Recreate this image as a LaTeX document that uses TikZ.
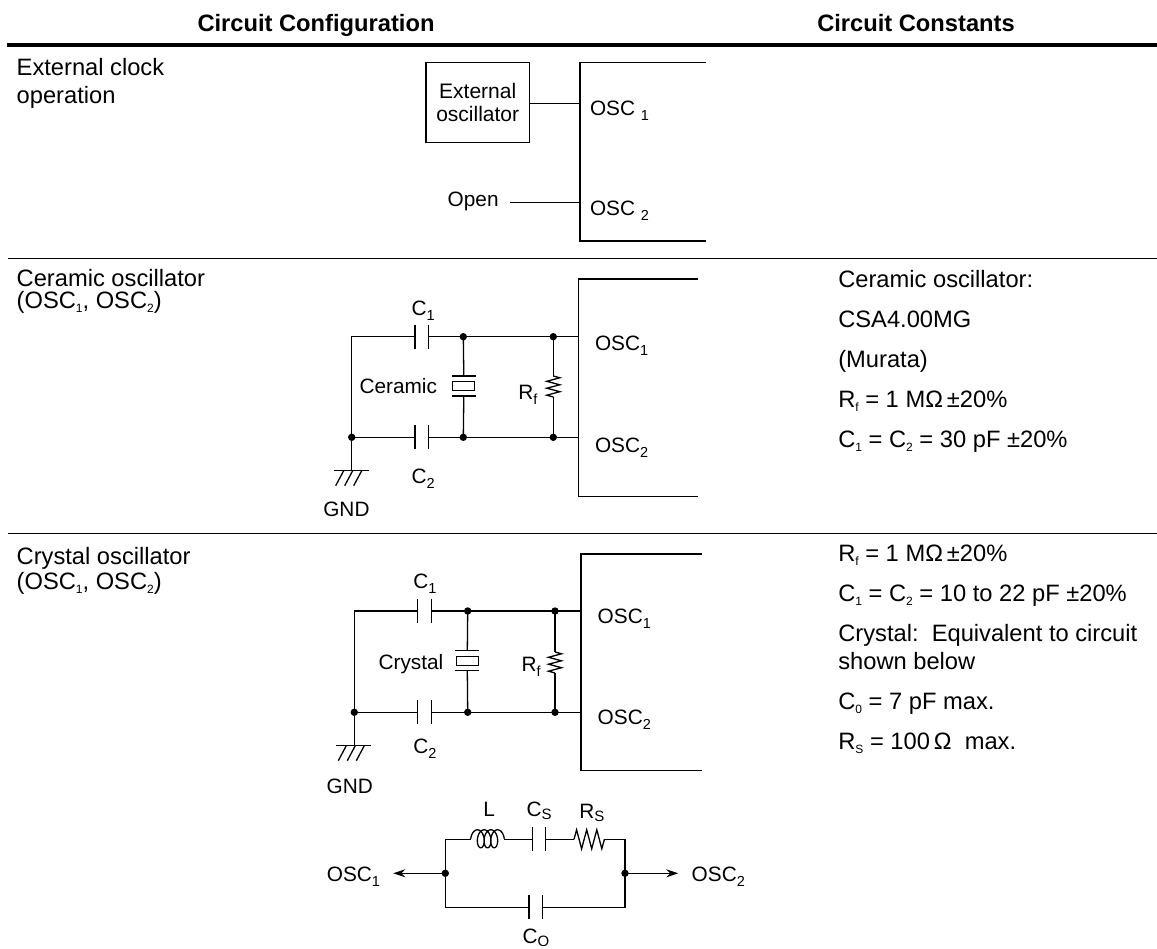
\documentclass[tikz,border=0pt]{standalone}
\usepackage{fontspec}
\setmainfont{Liberation Sans}
\usetikzlibrary{arrows.meta}
\newcommand{\lsub}[1]{\raisebox{-5pt}{\fontsize{14.5}{14.5}\selectfont #1}}
\newcommand{\esub}[1]{\raisebox{-3pt}{\fontsize{15}{15}\selectfont #1}}
\newcommand{\tsub}[1]{\raisebox{-4pt}{\fontsize{12}{12}\selectfont #1}}
\newcommand{\mainsz}{\fontsize{23.7}{27}\selectfont}
\newcommand{\cktsz}{\fontsize{20.8}{23}\selectfont}
\tikzset{
  cap/.pic={\draw (-6.7,-12) -- (-6.7,12); \draw (6.7,-12) -- (6.7,12);
            \coordinate (-a) at (-6.7,0); \coordinate (-b) at (6.7,0);},
  xtal/.pic={\draw (-12,-10) -- (12,-10); \draw (-11,-4.5) rectangle (11,4.5);
             \draw (-12,10) -- (12,10);
             \coordinate (-t) at (0,-10); \coordinate (-b) at (0,10);},
  rv/.pic={\draw (0,-10.5) -- (6.5,-8.7) -- (-6.5,-5.2) -- (6.5,-1.7) -- (-6.5,1.7)
            -- (6.5,5.2) -- (-6.5,8.7) -- (0,10.5);
           \coordinate (-t) at (0,-10.5); \coordinate (-b) at (0,10.5);},
  rh/.pic={\draw (-15.2,0) -- (-12.6,-9.5) -- (-7.6,9.5) -- (-2.5,-9.5) -- (2.5,9.5)
            -- (7.6,-9.5) -- (12.6,9.5) -- (15.2,0);
           \coordinate (-a) at (-15.2,0); \coordinate (-b) at (15.2,0);},
  gnd/.pic={\draw (-18,0) -- (17,0);
            \foreach \q in {-8,1,10} \draw (\q,0) -- (\q-8,15);},
  coil/.pic={\draw plot[domain=1.5708:23.5619,samples=220,variable=\t,smooth]
              ({1.07*(\t-12.5664)-5*sin(\t r)},{-0.5+9*cos(\t r)});
             \coordinate (-a) at (-16.77,0); \coordinate (-b) at (16.77,0);},
}
\begin{document}
\begin{tikzpicture}[x=1pt,y=-1pt,line width=1.3pt,
  every node/.style={inner sep=0pt,outer sep=0pt},
  txt/.style={anchor=base west,font=\mainsz},
  ckt/.style={anchor=base west,font=\cktsz},
  ckte/.style={anchor=base east,font=\cktsz},
  hdr/.style={anchor=base,font=\mainsz\bfseries},
  dot/.style={fill=black},
  arr/.style={-{Stealth[length=12pt,width=8pt]}}]
\fill[white] (0,0) rectangle (1157,949);
\useasboundingbox (0,0) rectangle (1157,949);

% ---------------- header ----------------
\node[hdr] (h1) at (316,31.5) {Circuit Configuration};
\node[hdr] (h2) at (916,31.5) {Circuit Constants};
\draw[line width=4pt] (7,45) -- (1157,45);
\draw[line width=1.5pt] (8,258.7) -- (1157,258.7);
\draw[line width=1.5pt] (8,533.3) -- (1157,533.3);

% ---------------- row 1 ----------------
\node[txt] (r1a) at (16.7,76) {External clock};
\node[txt] (r1b) at (16.7,103.5) {operation};
\draw (706,62.7) -- (580,62.7) -- (580,241) -- (706,241);
\node[draw,minimum width=103.3pt,minimum height=80pt,align=center,
      font=\fontsize{21}{22.5}\selectfont] (ext) at (477.7,102.7) {External\\oscillator};
\coordinate (a1) at (580,103.3);
\draw (ext.east |- a1) -- (a1);
\node[ckt] (a1l) at (590,116) {OSC \lsub{1}};
\node[ckt] (open) at (447.7,206.7) {Open};
\coordinate (openw) at (510,202.7);
\coordinate (a2) at (580,202.7);
\draw (openw) -- (a2);
\node[ckt] (a2l) at (590,216) {OSC \lsub{2}};

% ---------------- row 2 ----------------
\node[txt] (r2a) at (16.7,286.7) {Ceramic oscillator};
\node[txt] (r2b) at (16.7,308.3) {(OSC\tsub{1}, OSC\tsub{2})};
\draw (698,279) -- (578.3,279) -- (578.3,496.7) -- (698,496.7);
\coordinate (bL) at (351.7,336.7);
\coordinate (bG) at (351.7,437.3);
\coordinate (bE) at (351.7,470.7);
\coordinate (bT1) at (463.3,336.7);
\coordinate (bT2) at (553.3,336.7);
\coordinate (bO1) at (578.3,336.7);
\coordinate (bB1) at (463.3,437.3);
\coordinate (bB2) at (553.3,437.3);
\coordinate (bO2) at (578.3,437.3);
\pic (bC1) at (421.7,336.7) {cap};
\pic (bC2) at (421.7,437.3) {cap};
\pic (bX) at (463.8,386) {xtal};
\pic (bR) at (553.3,386.5) {rv};
\pic (bgnd) at (bE) {gnd};
\draw (bC1-a) -- (bL) -- (bE);
\draw (bC1-b) -- (bO1);
\draw (bG) -- (bC2-a);
\draw (bC2-b) -- (bO2);
\draw (bT1) -- (bX-t);
\draw (bX-b) -- (bB1);
\draw (bT2) -- (bR-t);
\draw (bR-b) -- (bB2);
\foreach \p in {bG,bT1,bT2,bB1,bB2} \fill[dot] (\p) circle[radius=3.7pt];
\node[ckt] (bC1l) at (411.7,316) {C\lsub{1}};
\node[ckt] (bC2l) at (411.7,483.3) {C\lsub{2}};
\node[ckte] (bXl) at (437,393.3) {Ceramic};
\node[ckt] (bRl) at (518.3,399.3) {R\lsub{f}};
\node[ckt] (bO1l) at (595,350.7) {OSC\lsub{1}};
\node[ckt] (bO2l) at (595,452.7) {OSC\lsub{2}};
\node[ckt] (bGl) at (323.3,516) {GND};
% constants
\node[txt] (k1) at (838.3,287.3) {Ceramic oscillator:};
\node[txt] (k2) at (838.3,327.3) {CSA4.00MG};
\node[txt] (k3) at (838.3,367.3) {(Murata)};
\node[txt] (k4) at (838.3,407.3) {R\tsub{f} = 1 MΩ\,±20\%};
\node[txt] (k5) at (838.3,447.3) {C\tsub{1} = C\tsub{2} = 30 pF ±20\%};

% ---------------- row 3 ----------------
\node[txt] (r3a) at (16.7,564) {Crystal oscillator};
\node[txt] (r3b) at (16.7,589) {(OSC\tsub{1}, OSC\tsub{2})};
\draw (701.7,554) -- (581,554) -- (581,770.7) -- (701.7,770.7);
\coordinate (cL) at (354.3,611);
\coordinate (cG) at (354.3,712.3);
\coordinate (cE) at (354.3,745.7);
\coordinate (cT1) at (467.7,611);
\coordinate (cT2) at (555,611);
\coordinate (cO1) at (581,611);
\coordinate (cB1) at (467.7,712.3);
\coordinate (cB2) at (555,712.3);
\coordinate (cO2) at (581,712.3);
\pic (cC1) at (424.5,611) {cap};
\pic (cC2) at (424.5,712.3) {cap};
\pic (cX) at (467.3,660.7) {xtal};
\pic (cR) at (555,662.5) {rv};
\pic (cgnd) at (cE) {gnd};
\draw (cC1-a) -- (cL) -- (cE);
\draw (cC1-b) -- (cO1);
\draw (cG) -- (cC2-a);
\draw (cC2-b) -- (cO2);
\draw (cT1) -- (cX-t);
\draw (cX-b) -- (cB1);
\draw (cT2) -- (cR-t);
\draw (cR-b) -- (cB2);
\foreach \p in {cG,cT1,cT2,cB1,cB2} \fill[dot] (\p) circle[radius=3.7pt];
\node[ckt] (cC1l) at (413.3,588.3) {C\lsub{1}};
\node[ckt] (cC2l) at (413.3,753.3) {C\lsub{2}};
\node[ckte] (cXl) at (443.3,669.3) {Crystal};
\node[ckt] (cRl) at (521.7,671.7) {R\lsub{f}};
\node[ckt] (cO1l) at (597.7,623.3) {OSC\lsub{1}};
\node[ckt] (cO2l) at (597.7,724) {OSC\lsub{2}};
\node[ckt] (cGl) at (326.7,793.3) {GND};
% equivalent circuit
\coordinate (eL1) at (445.3,839.3);
\coordinate (eR1) at (625,839.3);
\coordinate (eL2) at (445.3,907.3);
\coordinate (eR2) at (625,907.3);
\coordinate (eML) at (445.3,873.3);
\coordinate (eMR) at (625,873.3);
\coordinate (eAL) at (393.3,873.3);
\coordinate (eAR) at (678.3,873.3);
\pic (eL) at (487.5,839.3) {coil};
\pic (eCs) at (539,839.3) {cap};
\pic (eRs) at (589.2,839.3) {rh};
\pic (eCo) at (535.8,907.3) {cap};
\draw (eCs-b) -- (eRs-a);
\draw (eRs-b) -- (eR1) -- (eR2) -- (eCo-b);
\draw (eCo-a) -- (eL2) -- (eL1) -- (eL-a);
\draw (eL-b) -- (eCs-a);
\draw[arr] (eML) -- (eAL);
\draw[arr] (eMR) -- (eAR);
\foreach \p in {eML,eMR} \fill[dot] (\p) circle[radius=3.7pt];
\node[ckt] (eLl) at (483.3,816.7) {L};
\node[ckt] (eCsl) at (526.7,816.7) {C\esub{S}};
\node[ckt] (eRsl) at (579.3,818) {R\esub{S}};
\node[ckt] (eCol) at (522.7,943.5) {C\esub{O}};
\node[ckte] (eO1l) at (380,881.7) {OSC\lsub{1}};
\node[ckt] (eO2l) at (691.7,881.7) {OSC\lsub{2}};
% constants
\node[txt] (m1) at (838.3,561) {R\tsub{f} = 1 MΩ\,±20\%};
\node[txt] (m2) at (838.3,601) {C\tsub{1} = C\tsub{2} = 10 to 22 pF ±20\%};
\node[txt] (m3) at (838.3,641.7) {Crystal:\ \ Equivalent to circuit};
\node[txt] (m4) at (838.3,669.3) {shown below};
\node[txt] (m5) at (838.3,709) {C\tsub{0} = 7 pF max.};
\node[txt] (m6) at (838.3,749) {R\tsub{S} = 100\,Ω\ \ max.};
\end{tikzpicture}
\end{document}
